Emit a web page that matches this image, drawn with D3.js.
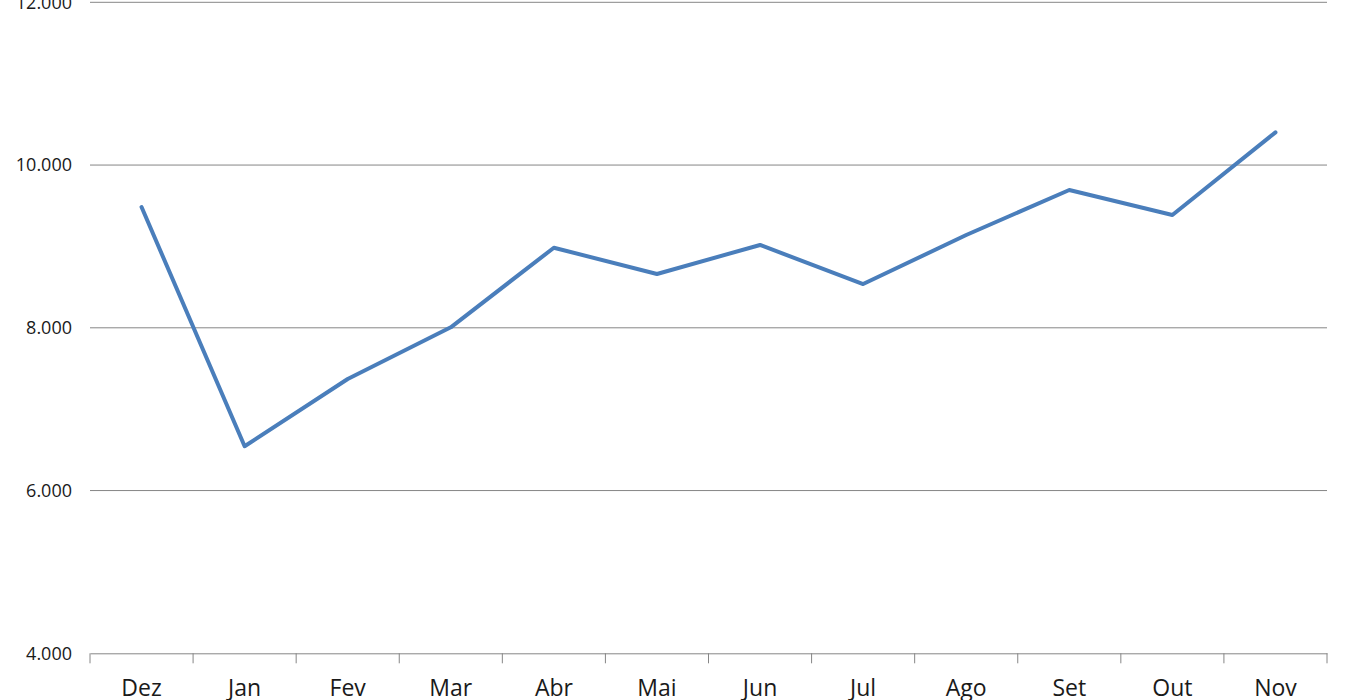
<html>
	<head>
		<script src="https://d3js.org/d3.v7.min.js"></script>
		<style>
			body {
				margin: 0;
				background: #ffffff;
				overflow: hidden;
			}
			text {
				font-family: "Open Sans", "Liberation Sans", sans-serif;
				fill: #1a1a1a;
			}
		</style>
	</head>
	<body>
		<div class="svg-container"></div>
		<script type="text/javascript">
			var months = ["Dez", "Jan", "Fev", "Mar", "Abr", "Mai", "Jun", "Jul", "Ago", "Set", "Out", "Nov"];
			var values = [9484, 6545, 7371, 8006, 8984, 8661, 9018, 8538, 9140, 9693, 9386, 10402];
			var yTicks = [4000, 6000, 8000, 10000, 12000];

			var w = 1350;
			var h = 700;

			var plotLeft = 90, plotRight = 1327; // plot edges
			var plotTop = 2.3, plotBottom = 653.3;

			var xScale = d3.scaleBand().domain(months).range([plotLeft, plotRight]);
			var yScale = d3.scaleLinear().domain([4000, 12000]).range([plotBottom, plotTop]);

			var svg = d3.select('.svg-container').append('svg').attr('width', w).attr('height', h);

			// gridlines
			svg.append('g').selectAll('line').data(yTicks.slice(1)).enter().append('line')
				.attr('x1', plotLeft).attr('x2', plotRight)
				.attr('y1', function(d){ return yScale(d); })
				.attr('y2', function(d){ return yScale(d); })
				.attr('stroke', '#868686').attr('stroke-width', 1);

			// y labels
			var fmt = function(d){ return d3.format(',')(d).replace(/,/g, '.'); };
			svg.append('g').selectAll('text').data(yTicks).enter().append('text')
				.attr('x', 72)
				.attr('y', function(d){ return yScale(d); })
				.attr('dy', '0.35em')
				.attr('text-anchor', 'end')
				.style('font-size', '18px')
				.text(fmt);

			// x axis
			var xAxis = d3.axisBottom(xScale).tickSize(0).tickPadding(26);
			var gx = svg.append('g').attr('transform', 'translate(0,' + plotBottom + ')').call(xAxis);
			gx.select('.domain').attr('stroke', '#868686');
			gx.selectAll('text').style('font-size', '23px').attr('fill', '#1a1a1a');
			// category dividers
			var edges = months.map(function(m){ return xScale(m); }).concat([plotRight]);
			gx.append('g').selectAll('line').data(edges).enter().append('line')
				.attr('x1', function(d){ return d; }).attr('x2', function(d){ return d; })
				.attr('y1', 0).attr('y2', 10)
				.attr('stroke', '#868686');

			// line
			var line = d3.line()
				.x(function(d, i){ return xScale(months[i]) + xScale.bandwidth() / 2; })
				.y(function(d){ return yScale(d); });
			svg.append('path').datum(values)
				.attr('fill', 'none')
				.attr('stroke', '#4a7ebb')
				.attr('stroke-width', 4)
				.attr('stroke-linejoin', 'round')
				.attr('stroke-linecap', 'round')
				.attr('d', line);
		</script>
	</body>
</html>
